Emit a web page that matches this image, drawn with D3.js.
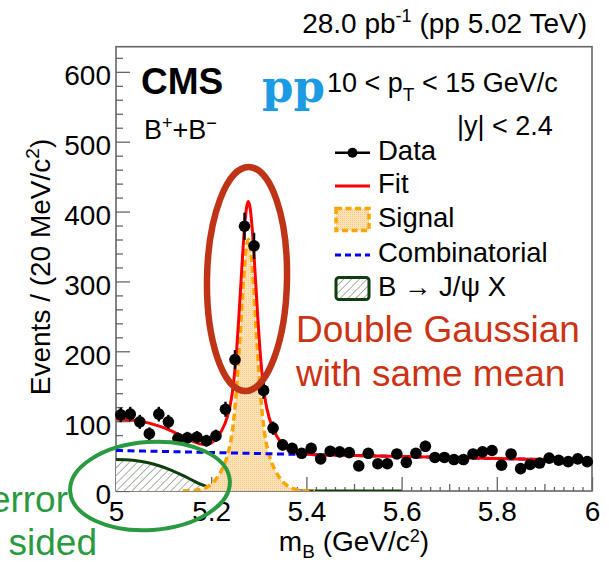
<!DOCTYPE html>
<html>
<head>
<meta charset="utf-8">
<script src="https://cdn.jsdelivr.net/npm/d3@7"></script>
<style>
  html, body { margin: 0; padding: 0; background: #fff; }
  svg { display: block; font-family: "Liberation Sans", Arial, Helvetica, sans-serif; }
</style>
</head>
<body>
<svg id="chart" width="609" height="562"></svg>
<script>
// ---- B+ invariant-mass spectrum, 20 MeV bins ----
const massBins = [
  5.01, 5.03, 5.05, 5.07, 5.09, 5.11, 5.13, 5.15, 5.17, 5.19,
  5.21, 5.23, 5.25, 5.27, 5.29, 5.31, 5.33, 5.35, 5.37, 5.39,
  5.41, 5.43, 5.45, 5.47, 5.49, 5.51, 5.53, 5.55, 5.57, 5.59,
  5.61, 5.63, 5.65, 5.67, 5.69, 5.71, 5.73, 5.75, 5.77, 5.79,
  5.81, 5.83, 5.85, 5.87, 5.89, 5.91, 5.93, 5.95, 5.97, 5.99
];
const dataCounts = [
  109, 110, 99, 82, 110, 99, 75, 76, 77, 72,
  79, 117, 188, 379, 351, 144, 90, 66, 61, 54,
  61, 46, 57, 56, 55, 36, 54, 39, 39, 53,
  41, 54, 64, 48, 48, 45, 45, 53, 56, 58,
  37, 53, 32, 38, 40, 47, 44, 42, 46, 42
];

// ---- fit components sampled along the mass axis ----
const curveMass = [
  5.00, 5.02, 5.04, 5.06, 5.08, 5.10, 5.12, 5.14, 5.16, 5.18,
  5.196, 5.21, 5.222, 5.234, 5.242,
  5.246, 5.250, 5.254, 5.258, 5.262, 5.266, 5.270, 5.274, 5.278,
  5.282, 5.286, 5.290, 5.294, 5.298, 5.302, 5.306, 5.310, 5.314,
  5.322, 5.334, 5.346, 5.360, 5.376, 5.396, 5.418,
  5.45, 5.50, 5.55, 5.60, 5.70, 5.80, 5.90, 6.00
];
const signalCurve = [
  0, 0, 0, 0, 0, 0, 0, 0, 0.5, 2.5,
  7.5, 17, 30, 51, 75,
  94, 120, 152, 193, 238, 283, 323, 350, 360,
  350, 323, 283, 238, 193, 152, 120, 94, 75,
  51, 30, 17, 7.5, 2.5, 0.5, 0,
  0, 0, 0, 0, 0, 0, 0, 0
];
const combCurve = [
  58.0, 57.7, 57.4, 57.1, 56.8, 56.6, 56.3, 56.0, 55.7, 55.4,
  55.2, 55.0, 54.8, 54.6, 54.5,
  54.5, 54.4, 54.3, 54.3, 54.2, 54.2, 54.1, 54.1, 54.0,
  53.9, 53.9, 53.8, 53.8, 53.7, 53.7, 53.6, 53.5, 53.5,
  53.4, 53.2, 53.0, 52.8, 52.6, 52.3, 52.0,
  51.5, 50.8, 50.1, 49.4, 47.9, 46.5, 45.0, 43.6
];
const jpsiXCurve = [
  45, 44.7, 43.6, 41.5, 38.3, 34, 28.5, 22.5, 15.5, 9,
  5, 2.8, 1.6, 1.0, 0.8,
  0.7, 0.6, 0.55, 0.5, 0.45, 0.4, 0.35, 0.3, 0.3,
  0.25, 0.2, 0.2, 0.2, 0.15, 0.15, 0.1, 0.1, 0.1,
  0.1, 0.05, 0, 0, 0, 0, 0,
  0, 0, 0, 0, 0, 0, 0, 0
];

// ---- axes ----
const xTickValues = [5, 5.2, 5.4, 5.6, 5.8, 6];
const xTickLabels = ["5", "5.2", "5.4", "5.6", "5.8", "6"];
const yTickValues = [0, 100, 200, 300, 400, 500, 600];
const yTickLabels = ["0", "100", "200", "300", "400", "500", "600"];
const legendLabels = ["Data", "Fit", "Signal", "Combinatorial", "B \u2192 J/\u03C8 X"];

const svg = d3.select("#chart");
const frame = { left: 116, right: 592, top: 46.7, bottom: 491 };
const x = d3.scaleLinear().domain([5, 6]).range([frame.left, frame.right]);
const y = d3.scaleLinear().domain([0, 636]).range([frame.bottom, frame.top]);

const defs = svg.append("defs");
defs.append("clipPath").attr("id", "plotClip")
  .append("rect")
  .attr("x", frame.left).attr("y", frame.top)
  .attr("width", frame.right - frame.left).attr("height", frame.bottom - frame.top);

// diagonal hatching for the B -> J/psi X component
const hatch = defs.append("pattern").attr("id", "hatch")
  .attr("patternUnits", "userSpaceOnUse").attr("width", 5.5).attr("height", 5.5)
  .attr("patternTransform", "rotate(45)");
hatch.append("rect").attr("width", 5.5).attr("height", 5.5).attr("fill", "#fff");
hatch.append("line").attr("x1", 0).attr("y1", 0).attr("x2", 0).attr("y2", 5.5)
  .attr("stroke", "#5d735d").attr("stroke-width", 1.1);

// fine dotted fill for the signal component
const dots = defs.append("pattern").attr("id", "sigFill")
  .attr("patternUnits", "userSpaceOnUse").attr("width", 2).attr("height", 2);
dots.append("rect").attr("width", 2).attr("height", 2).attr("fill", "#fde2b8");
dots.append("rect").attr("width", 1).attr("height", 1).attr("fill", "#f9c884");

// ---- frame & ticks ----
const axisColor = "#666";
const yAxis = d3.axisLeft(y).tickValues(yTickValues).tickSize(-14).tickPadding(5)
  .tickFormat((d, i) => yTickLabels[i]);
const gy = svg.append("g").attr("transform", `translate(${frame.left},0)`).call(yAxis);
const yMinor = d3.range(20, 636, 20).filter(v => v % 100 !== 0);
svg.append("g").attr("transform", `translate(${frame.left},0)`)
  .call(d3.axisLeft(y).tickValues(yMinor).tickSize(-7).tickFormat(""));

const xAxis = d3.axisBottom(x).tickValues(xTickValues).tickSize(-14).tickPadding(10)
  .tickFormat((d, i) => xTickLabels[i]);
const gx = svg.append("g").attr("transform", `translate(0,${frame.bottom})`).call(xAxis);
const xMid = d3.range(5.1, 6, 0.2);
const xMinor = d3.range(5, 6.0001, 0.02).filter(v => Math.abs(v * 10 - Math.round(v * 10)) > 1e-6);
svg.append("g").attr("transform", `translate(0,${frame.bottom})`)
  .call(d3.axisBottom(x).tickValues(xMid).tickSize(-7).tickFormat(""));
svg.append("g").attr("transform", `translate(0,${frame.bottom})`)
  .call(d3.axisBottom(x).tickValues(xMinor).tickSize(-4).tickFormat(""));

svg.selectAll(".domain").remove();
svg.selectAll(".tick line").attr("stroke", axisColor).attr("stroke-width", 1.3);
svg.selectAll(".tick text").attr("font-size", 28).attr("fill", "#000")
  .attr("font-family", "'Liberation Sans', Arial, sans-serif");
gy.selectAll(".tick text").attr("dy", "0.46em");

svg.append("rect")
  .attr("x", frame.left).attr("y", frame.top)
  .attr("width", frame.right - frame.left).attr("height", frame.bottom - frame.top)
  .attr("fill", "none").attr("stroke", axisColor).attr("stroke-width", 1.6);

// ---- fit components ----
const plot = svg.append("g").attr("clip-path", "url(#plotClip)");
const pts = curveMass.map((m, i) => ({
  m, sig: signalCurve[i], comb: combCurve[i], jpsi: jpsiXCurve[i],
  tot: signalCurve[i] + combCurve[i] + jpsiXCurve[i]
}));

const jpsiArea = pts.filter(p => p.m <= 5.35);
plot.append("path").datum(jpsiArea)
  .attr("d", d3.area().x(p => x(p.m)).y0(y(0)).y1(p => y(p.jpsi)).curve(d3.curveMonotoneX))
  .attr("fill", "url(#hatch)");
plot.append("path").datum(pts.filter(p => p.m <= 5.6))
  .attr("d", d3.line().x(p => x(p.m)).y(p => y(p.jpsi)).curve(d3.curveMonotoneX))
  .attr("fill", "none").attr("stroke", "#0f3f0f").attr("stroke-width", 3);

const sigPts = pts.filter(p => p.m >= 5.14 && p.m <= 5.418);
plot.append("path").datum(sigPts)
  .attr("d", d3.area().x(p => x(p.m)).y0(y(0)).y1(p => y(p.sig)).curve(d3.curveMonotoneX))
  .attr("fill", "url(#sigFill)");
plot.append("path").datum(sigPts)
  .attr("d", d3.line().x(p => x(p.m)).y(p => y(p.sig)).curve(d3.curveMonotoneX))
  .attr("fill", "none").attr("stroke", "#ffa500").attr("stroke-width", 3.5)
  .attr("stroke-dasharray", "7,4");

plot.append("path").datum(pts)
  .attr("d", d3.line().x(p => x(p.m)).y(p => y(p.comb)).curve(d3.curveMonotoneX))
  .attr("fill", "none").attr("stroke", "#0000ff").attr("stroke-width", 3)
  .attr("stroke-dasharray", "7,4.5");

plot.append("path").datum(pts)
  .attr("d", d3.line().x(p => x(p.m)).y(p => y(p.tot)).curve(d3.curveMonotoneX))
  .attr("fill", "none").attr("stroke", "#ff0000").attr("stroke-width", 3);

// ---- data points with Poisson errors ----
const dataG = svg.append("g");
massBins.forEach((m, i) => {
  const n = dataCounts[i], e = Math.sqrt(n);
  dataG.append("line")
    .attr("x1", x(m)).attr("x2", x(m))
    .attr("y1", y(n - e)).attr("y2", y(n + e))
    .attr("stroke", "#000").attr("stroke-width", 2.4);
  dataG.append("circle").attr("cx", x(m)).attr("cy", y(n)).attr("r", 5.8).attr("fill", "#000");
});

// ---- legend ----
const lg = svg.append("g");
const lx0 = 335, lx1 = 370, ltx = 378;
const rows = [152.7, 186, 219.5, 255, 288.5];
lg.append("line").attr("x1", lx0).attr("x2", lx1).attr("y1", rows[0]).attr("y2", rows[0])
  .attr("stroke", "#000").attr("stroke-width", 2.5);
lg.append("circle").attr("cx", (lx0 + lx1) / 2).attr("cy", rows[0]).attr("r", 5).attr("fill", "#000");
lg.append("line").attr("x1", lx0).attr("x2", lx1).attr("y1", rows[1]).attr("y2", rows[1])
  .attr("stroke", "#ff0000").attr("stroke-width", 3);
lg.append("rect").attr("x", lx0 + 1).attr("y", rows[2] - 11).attr("width", lx1 - lx0 - 2).attr("height", 22)
  .attr("fill", "url(#sigFill)").attr("stroke", "#ffa500").attr("stroke-width", 3.5)
  .attr("stroke-dasharray", "6,3.5");
lg.append("line").attr("x1", lx0).attr("x2", lx1).attr("y1", rows[3]).attr("y2", rows[3])
  .attr("stroke", "#0000ff").attr("stroke-width", 3).attr("stroke-dasharray", "6,4");
lg.append("rect").attr("x", lx0 + 1).attr("y", rows[4] - 11).attr("width", lx1 - lx0 - 2).attr("height", 22)
  .attr("rx", 3).attr("fill", "url(#hatch)").attr("stroke", "#0f3f0f").attr("stroke-width", 3);
legendLabels.forEach((t, i) => {
  lg.append("text").attr("x", ltx).attr("y", rows[i] + 7).attr("font-size", 27.5).text(t);
});

// ---- labels ----
function txt(xp, yp, size, opts = {}) {
  const t = svg.append("text").attr("x", xp).attr("y", yp).attr("font-size", size);
  if (opts.anchor) t.attr("text-anchor", opts.anchor);
  if (opts.weight) t.attr("font-weight", opts.weight);
  if (opts.fill) t.attr("fill", opts.fill);
  if (opts.family) t.attr("font-family", opts.family);
  return t;
}

const lumi = txt(587, 33, 28, { anchor: "end" });
lumi.append("tspan").text("28.0 pb");
lumi.append("tspan").attr("dy", -11).attr("font-size", 18).text("-1");
lumi.append("tspan").attr("dy", 11).text(" (pp 5.02 TeV)");

txt(141, 94, 37, { weight: "bold" }).text("CMS");

const bb = txt(144, 139, 27);
bb.append("tspan").text("B");
bb.append("tspan").attr("dy", -10).attr("font-size", 18).text("+");
bb.append("tspan").attr("dy", 10).text("+B");
bb.append("tspan").attr("dy", -10).attr("font-size", 18).text("\u2212");

txt(262, 102, 45, { fill: "#1a9be3", family: "'DejaVu Serif', serif", weight: "bold" }).text("pp");

const pt = txt(327, 92, 27);
pt.append("tspan").text("10 < p");
pt.append("tspan").attr("dy", 9).attr("font-size", 19).text("T");
pt.append("tspan").attr("dy", -9).text(" < 15 GeV/c");

txt(457, 135, 27).text("|y| < 2.4");

const yt = svg.append("text").attr("transform", "translate(50,267) rotate(-90)")
  .attr("text-anchor", "middle").attr("font-size", 28);
yt.append("tspan").text("Events / (20 MeV/c");
yt.append("tspan").attr("dy", -11).attr("font-size", 19).text("2");
yt.append("tspan").attr("dy", 11).text(")");

const xt = txt(354, 551, 28, { anchor: "middle" });
xt.append("tspan").text("m");
xt.append("tspan").attr("dy", 7).attr("font-size", 19).text("B");
xt.append("tspan").attr("dy", -7).text(" (GeV/c");
xt.append("tspan").attr("dy", -9).attr("font-size", 18).text("2");
xt.append("tspan").attr("dy", 9).text(")");

// ---- annotations ----
svg.append("ellipse").attr("cx", 247).attr("cy", 279).attr("rx", 40).attr("ry", 112)
  .attr("transform", "rotate(1,247,279)")
  .attr("fill", "none").attr("stroke", "#bf3416").attr("stroke-width", 6.5);
txt(296, 342, 37, { fill: "#cc3314" }).text("Double Gaussian");
txt(296, 386, 37, { fill: "#cc3314" }).text("with same mean");

svg.append("ellipse").attr("cx", 150).attr("cy", 486).attr("rx", 80).attr("ry", 44)
  .attr("transform", "rotate(-4,150,486)")
  .attr("fill", "none").attr("stroke", "#2a9a40").attr("stroke-width", 4);
txt(68, 512, 37, { anchor: "end", fill: "#2a9a40" }).text("error");
txt(97, 555, 37, { anchor: "end", fill: "#2a9a40" }).text("sided");
</script>
</body>
</html>
